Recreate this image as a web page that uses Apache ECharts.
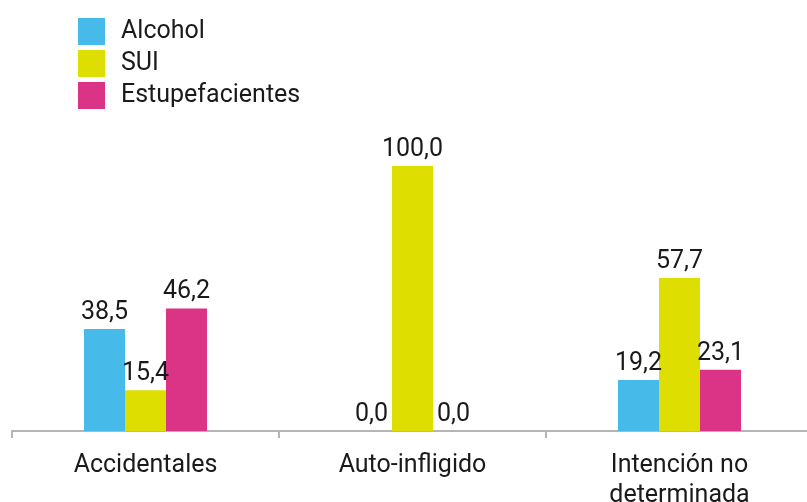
<!DOCTYPE html>
<html><head><meta charset="utf-8">
<script src="https://cdn.jsdelivr.net/npm/echarts@6/dist/echarts.min.js"></script>
<style>html,body{margin:0;padding:0;background:#fff}#c{width:807px;height:502px}</style>
</head><body><div id="c"></div>
<script>
const categories = ['Accidentales', 'Auto-infligido', 'Intención no\ndeterminada'];
const seriesNames = ['Alcohol', 'SUI', 'Estupefacientes'];
const alcohol = [38.5, 0.0, 19.2];
const sui = [15.4, 100.0, 57.7];
const estupefacientes = [46.2, 0.0, 23.1];
const colors = ['#46BAE9', '#DEDE00', '#DB3386'];

const FONT = 'Roboto';
const W = 'normal';
const TXT = '#1a1a1a';
const fmt = p => p.value.toFixed(1).replace('.', ',');
const values = [alcohol, sui, estupefacientes];

const chart = echarts.init(document.getElementById('c'), null, {renderer: 'canvas'});
chart.setOption({
  animation: false,
  textStyle: {fontFamily: FONT},
  legend: {
    orient: 'vertical', left: 78, top: 18, padding: 0,
    itemWidth: 27, itemHeight: 27, itemGap: 5,
    icon: 'rect',
    textStyle: {fontFamily: FONT, fontWeight: W, fontSize: 25, color: TXT, padding: [0, 0, 0, 11]},
    data: seriesNames
  },
  grid: {left: 12, right: -6, top: 166, bottom: 71, containLabel: false, outerBoundsMode: 'none'},
  xAxis: {
    type: 'category', data: categories,
    axisLine: {show: true, lineStyle: {color: '#b5b5b5', width: 2}},
    axisTick: {show: true, length: 7, lineStyle: {color: '#b5b5b5', width: 2}},
    axisLabel: {fontFamily: FONT, fontWeight: W, fontSize: 25, color: TXT, margin: 20, lineHeight: 30, interval: 0}
  },
  yAxis: {type: 'value', min: 0, max: 100, show: false, splitLine: {show: false}},
  series: seriesNames.map((n, i) => ({
    name: n, type: 'bar', data: values[i],
    barWidth: 41, barGap: '0%',
    itemStyle: {color: colors[i]},
    label: {show: true, position: 'top', distance: 4, formatter: fmt,
      fontFamily: FONT, fontWeight: W, fontSize: 25, color: TXT}
  }))
});
</script></body></html>
